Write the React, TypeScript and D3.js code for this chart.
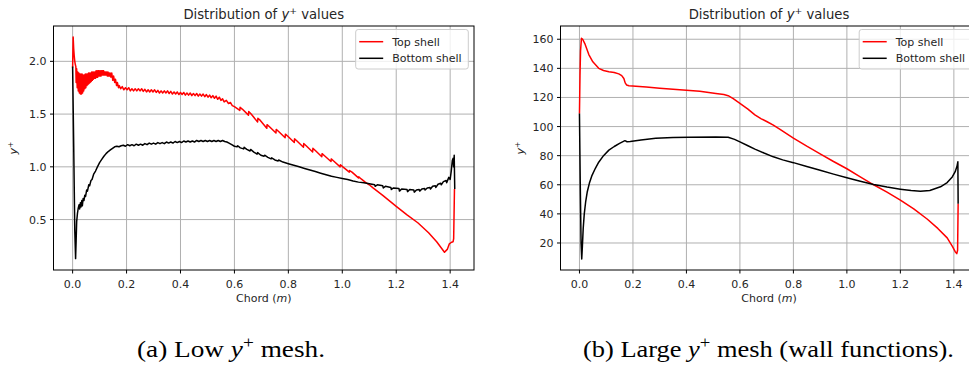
import * as d3 from "d3";

// chord positions (m) vs y+ values
const lowTopShell: [number, number][] = [
  [0.000, 1.94], [0.002, 2.23], [0.004, 2.12], [0.006, 2.05], [0.008, 2.00], [0.010, 1.97], [0.012, 1.95],
  [0.013, 1.80], [0.015, 1.93], [0.017, 1.75], [0.019, 1.90], [0.021, 1.72], [0.023, 1.89], [0.025, 1.70],
  [0.027, 1.88], [0.029, 1.69], [0.031, 1.88], [0.033, 1.69], [0.035, 1.88], [0.037, 1.70], [0.039, 1.87],
  [0.041, 1.72], [0.043, 1.87], [0.045, 1.74], [0.047, 1.88], [0.049, 1.75], [0.051, 1.88], [0.053, 1.77],
  [0.055, 1.88], [0.057, 1.78], [0.059, 1.89], [0.061, 1.79], [0.063, 1.89], [0.065, 1.80], [0.067, 1.89],
  [0.069, 1.81], [0.071, 1.90], [0.073, 1.82], [0.075, 1.90], [0.077, 1.83], [0.079, 1.90], [0.081, 1.84],
  [0.083, 1.90], [0.085, 1.84], [0.087, 1.91], [0.089, 1.85], [0.091, 1.91], [0.093, 1.85], [0.095, 1.91],
  [0.097, 1.86], [0.099, 1.91], [0.101, 1.86], [0.103, 1.91], [0.105, 1.86], [0.107, 1.91], [0.109, 1.87],
  [0.111, 1.91], [0.113, 1.87], [0.115, 1.91], [0.117, 1.87], [0.119, 1.90], [0.121, 1.87], [0.123, 1.90],
  [0.125, 1.87], [0.127, 1.90], [0.129, 1.86], [0.131, 1.90], [0.133, 1.86], [0.135, 1.89], [0.137, 1.86],
  [0.139, 1.89], [0.142, 1.85], [0.145, 1.89], [0.149, 1.82], [0.152, 1.86], [0.156, 1.80], [0.159, 1.83],
  [0.163, 1.77], [0.166, 1.80], [0.170, 1.75], [0.173, 1.77], [0.178, 1.74],
  [0.184, 1.76], [0.190, 1.73], [0.196, 1.75], [0.202, 1.73], [0.208, 1.75], [0.214, 1.72], [0.220, 1.74],
  [0.226, 1.72], [0.232, 1.74], [0.238, 1.72], [0.244, 1.74], [0.250, 1.72], [0.256, 1.74], [0.262, 1.715],
  [0.268, 1.735], [0.274, 1.71], [0.280, 1.73], [0.286, 1.71], [0.292, 1.73], [0.298, 1.71], [0.304, 1.73],
  [0.310, 1.705], [0.316, 1.725], [0.322, 1.70], [0.328, 1.72], [0.334, 1.70], [0.340, 1.72], [0.346, 1.70],
  [0.352, 1.72], [0.358, 1.695], [0.364, 1.715], [0.370, 1.69], [0.376, 1.71], [0.382, 1.69], [0.388, 1.71],
  [0.394, 1.685], [0.400, 1.705], [0.406, 1.685], [0.412, 1.705], [0.418, 1.68], [0.424, 1.70], [0.430, 1.68],
  [0.436, 1.70], [0.442, 1.675], [0.448, 1.695], [0.454, 1.675], [0.460, 1.695], [0.466, 1.67], [0.472, 1.69],
  [0.478, 1.67], [0.484, 1.69], [0.490, 1.665], [0.496, 1.685], [0.502, 1.66], [0.508, 1.68], [0.514, 1.655],
  [0.520, 1.675], [0.526, 1.65], [0.532, 1.67], [0.538, 1.64], [0.544, 1.66], [0.550, 1.63], [0.556, 1.645],
  [0.562, 1.615], [0.570, 1.63], [0.578, 1.60], [0.585, 1.61], [0.592, 1.58],
  [0.600, 1.57], [0.620, 1.535], [0.621, 1.565], [0.630, 1.545],
  [0.652, 1.49], [0.653, 1.525], [0.662, 1.50],
  [0.686, 1.425], [0.687, 1.46], [0.696, 1.44],
  [0.720, 1.365], [0.721, 1.40], [0.730, 1.38],
  [0.754, 1.32], [0.755, 1.355], [0.764, 1.335],
  [0.788, 1.275], [0.789, 1.31], [0.798, 1.29],
  [0.822, 1.23], [0.823, 1.265], [0.832, 1.245],
  [0.856, 1.185], [0.857, 1.22], [0.866, 1.20],
  [0.890, 1.14], [0.891, 1.175], [0.900, 1.155],
  [0.924, 1.095], [0.925, 1.125], [0.934, 1.105],
  [0.958, 1.05], [0.959, 1.075], [0.968, 1.055],
  [0.992, 1.00], [0.993, 1.02], [1.002, 1.00],
  [1.026, 0.95], [1.027, 0.965], [1.036, 0.95],
  [1.060, 0.895], [1.061, 0.905], [1.070, 0.885],
  [1.085, 0.855], [1.100, 0.83], [1.114, 0.80], [1.150, 0.73], [1.200, 0.625], [1.240, 0.545],
  [1.280, 0.47], [1.320, 0.375], [1.350, 0.29], [1.379, 0.19], [1.390, 0.22], [1.397, 0.27],
  [1.405, 0.285], [1.411, 0.29], [1.413, 0.32], [1.416, 0.79],
];

const lowBottomShell: [number, number][] = [
  [0.000, 1.95], [0.004, 1.20], [0.008, 0.40], [0.011, 0.13], [0.013, 0.30], [0.015, 0.48], [0.018, 0.56],
  [0.021, 0.61], [0.024, 0.64], [0.026, 0.60], [0.029, 0.66], [0.031, 0.62], [0.034, 0.68], [0.036, 0.63],
  [0.039, 0.70], [0.042, 0.68], [0.045, 0.73], [0.048, 0.72], [0.052, 0.78], [0.055, 0.77], [0.060, 0.83],
  [0.063, 0.82], [0.068, 0.87], [0.072, 0.88], [0.078, 0.93], [0.085, 0.96], [0.092, 1.00], [0.100, 1.04],
  [0.108, 1.07], [0.116, 1.10], [0.124, 1.125], [0.132, 1.145], [0.140, 1.16], [0.148, 1.175], [0.156, 1.19],
  [0.164, 1.195], [0.172, 1.19], [0.180, 1.20],
  [0.188, 1.205], [0.196, 1.195], [0.204, 1.21], [0.212, 1.20], [0.220, 1.21], [0.228, 1.20], [0.236, 1.215],
  [0.244, 1.205], [0.252, 1.215], [0.260, 1.205], [0.268, 1.22], [0.276, 1.21], [0.284, 1.225], [0.292, 1.215],
  [0.300, 1.225], [0.308, 1.215], [0.316, 1.23], [0.324, 1.22], [0.332, 1.23], [0.340, 1.22], [0.348, 1.235],
  [0.356, 1.225], [0.364, 1.235], [0.372, 1.225], [0.380, 1.24], [0.388, 1.23], [0.396, 1.24], [0.404, 1.23],
  [0.412, 1.245], [0.420, 1.235], [0.428, 1.245], [0.436, 1.235], [0.444, 1.245], [0.452, 1.235], [0.460, 1.25],
  [0.468, 1.24], [0.476, 1.25], [0.484, 1.24], [0.492, 1.25], [0.500, 1.24], [0.508, 1.25], [0.516, 1.24],
  [0.524, 1.25], [0.532, 1.24], [0.540, 1.25], [0.548, 1.24], [0.556, 1.25], [0.564, 1.24], [0.572, 1.235],
  [0.580, 1.225], [0.590, 1.21], [0.600, 1.195],
  [0.610, 1.19], [0.612, 1.20], [0.622, 1.18], [0.634, 1.17], [0.636, 1.185], [0.646, 1.165], [0.658, 1.15],
  [0.660, 1.165], [0.672, 1.14], [0.684, 1.12], [0.686, 1.135], [0.698, 1.11], [0.710, 1.10], [0.712, 1.11],
  [0.724, 1.09], [0.736, 1.075], [0.738, 1.085], [0.750, 1.065], [0.762, 1.055], [0.764, 1.065], [0.780, 1.045],
  [0.800, 1.03], [0.820, 1.015], [0.840, 1.00], [0.860, 0.985], [0.880, 0.97], [0.900, 0.955], [0.920, 0.94],
  [0.940, 0.925], [0.960, 0.91], [0.980, 0.90], [1.000, 0.89], [1.020, 0.88], [1.040, 0.865], [1.060, 0.855],
  [1.080, 0.85], [1.100, 0.84], [1.120, 0.83], [1.122, 0.815], [1.130, 0.83], [1.150, 0.82], [1.152, 0.80],
  [1.160, 0.815], [1.180, 0.805], [1.182, 0.785], [1.190, 0.80], [1.210, 0.795], [1.212, 0.77], [1.220, 0.79],
  [1.240, 0.785], [1.242, 0.765], [1.250, 0.785], [1.265, 0.78], [1.267, 0.76], [1.275, 0.78], [1.285, 0.785],
  [1.287, 0.77], [1.295, 0.79], [1.305, 0.795], [1.307, 0.78], [1.315, 0.80], [1.325, 0.805], [1.327, 0.79],
  [1.335, 0.815], [1.345, 0.82], [1.347, 0.805], [1.355, 0.835], [1.365, 0.845], [1.367, 0.83], [1.375, 0.86],
  [1.385, 0.87], [1.387, 0.85], [1.395, 0.90], [1.400, 0.88], [1.404, 0.96], [1.408, 1.06], [1.411, 1.08],
  [1.413, 1.00], [1.415, 1.11], [1.417, 0.79],
];

const largeTopShell: [number, number][] = [
  [0.000, 109], [0.002, 135], [0.004, 152], [0.0075, 160.7], [0.012, 160], [0.020, 157], [0.035, 149.5],
  [0.050, 144.5], [0.072, 140], [0.090, 138.5], [0.110, 137.7], [0.130, 137.2], [0.147, 136.2], [0.158, 135],
  [0.166, 133], [0.171, 130], [0.176, 128.6], [0.185, 128.1], [0.198, 127.9], [0.250, 127.2], [0.300, 126.4],
  [0.350, 125.7], [0.400, 125], [0.450, 124.2], [0.510, 122.8], [0.540, 122], [0.556, 121.2], [0.575, 119.2],
  [0.600, 116], [0.630, 112], [0.656, 108], [0.680, 105.3], [0.700, 103.5], [0.725, 101], [0.750, 98],
  [0.800, 92], [0.850, 86.5], [0.900, 81.3], [0.950, 76], [1.000, 71], [1.050, 65.5], [1.100, 60],
  [1.150, 55], [1.200, 49.5], [1.250, 43.5], [1.300, 36.5], [1.340, 30], [1.375, 23.5], [1.395, 17.5],
  [1.405, 14], [1.411, 12.7], [1.414, 15], [1.416, 47],
];

const largeBottomShell: [number, number][] = [
  [0.000, 109], [0.003, 60], [0.006, 20], [0.0085, 9], [0.011, 18], [0.014, 30], [0.018, 40], [0.023, 48],
  [0.029, 55], [0.037, 61], [0.047, 66.5], [0.060, 71.5], [0.072, 75.5], [0.090, 80], [0.110, 83.8],
  [0.130, 86.3], [0.150, 88.5], [0.170, 90.3], [0.178, 89.6], [0.190, 89.7], [0.230, 90.8], [0.285, 91.9],
  [0.350, 92.4], [0.410, 92.6], [0.510, 92.8], [0.556, 92.6], [0.580, 91.2], [0.600, 89.5], [0.630, 86.8],
  [0.656, 84.5], [0.690, 81.8], [0.725, 79.2], [0.760, 77.1], [0.800, 75.2], [0.850, 72.5], [0.900, 70],
  [0.950, 67.3], [1.000, 64.8], [1.050, 62.4], [1.100, 60.2], [1.150, 58.4], [1.200, 57], [1.240, 56],
  [1.275, 55.6], [1.310, 56.1], [1.350, 58.6], [1.375, 61.5], [1.394, 65.4], [1.405, 69], [1.412, 73],
  [1.415, 75.8], [1.416, 47],
];

const xTicks = [0, 0.2, 0.4, 0.6, 0.8, 1.0, 1.2, 1.4];
const lowYTicks = [0.5, 1.0, 1.5, 2.0];
const largeYTicks = [20, 40, 60, 80, 100, 120, 140, 160];
const seriesNames = ["Top shell", "Bottom shell"];
const seriesColors = ["#ff0000", "#000000"];

const FONT = "'DejaVu Sans', sans-serif";
const SERIF = "'Liberation Serif', 'DejaVu Serif', serif";

interface PanelProps {
  id: string;
  left: number;
  right: number;
  top: number;
  bottom: number;
  yDomain: [number, number];
  yTicks: number[];
  yFormat: (v: number) => string;
  top_: [number, number][];
  bottom_: [number, number][];
}

function Panel(props: PanelProps) {
  const { id, left, right, top, bottom, yDomain, yTicks, yFormat } = props;
  const x = d3.scaleLinear().domain([-0.0709, 1.4884]).range([left, right]);
  const y = d3.scaleLinear().domain(yDomain).range([bottom, top]);
  const line = d3.line<[number, number]>().x(d => x(d[0])).y(d => y(d[1]));
  const cx = (left + right) / 2;
  const cy = (top + bottom) / 2;
  const xf = d3.format(".1f");
  const legX = right - 118.3;

  return (
    <g style={{ fontFamily: FONT }}>
      <defs>
        <clipPath id={id}>
          <rect x={left} y={top} width={right - left} height={bottom - top} />
        </clipPath>
      </defs>
      {/* grid */}
      {xTicks.map(t => (
        <line key={"gx" + t} x1={x(t)} x2={x(t)} y1={top} y2={bottom} stroke="#b0b0b0" strokeWidth={1} />
      ))}
      {yTicks.map(t => (
        <line key={"gy" + t} x1={left} x2={right} y1={y(t)} y2={y(t)} stroke="#b0b0b0" strokeWidth={1} />
      ))}
      {/* lines */}
      <g clipPath={`url(#${id})`} fill="none" strokeWidth={1.5} strokeLinejoin="round">
        <path d={line(props.top_) || ""} stroke={seriesColors[0]} />
        <path d={line(props.bottom_) || ""} stroke={seriesColors[1]} />
      </g>
      {/* frame */}
      <rect x={left} y={top} width={right - left} height={bottom - top} fill="none" stroke="#000" strokeWidth={1} />
      {/* ticks */}
      {xTicks.map(t => (
        <g key={"tx" + t}>
          <line x1={x(t)} x2={x(t)} y1={bottom} y2={bottom + 3.5} stroke="#000" />
          <text x={x(t)} y={287.5} textAnchor="middle" fontSize={11} fill="#262626">{xf(t)}</text>
        </g>
      ))}
      {yTicks.map(t => (
        <g key={"ty" + t}>
          <line x1={left - 3.5} x2={left} y1={y(t)} y2={y(t)} stroke="#000" />
          <text x={left - 7} y={y(t) + 4} textAnchor="end" fontSize={11} fill="#262626">{yFormat(t)}</text>
        </g>
      ))}
      {/* title */}
      <text x={cx} y={18.5} textAnchor="middle" fontSize={13.2} fill="#262626">
        Distribution of <tspan fontStyle="italic">y</tspan>
        <tspan dy={-5} fontSize={9.3}>+</tspan>
        <tspan dy={5}> values</tspan>
      </text>
      {/* axis labels */}
      <text x={cx} y={301.5} textAnchor="middle" fontSize={11} fill="#262626">
        Chord (<tspan fontStyle="italic">m</tspan>)
      </text>
      <text transform={`translate(${left - 37},${cy}) rotate(-90)`} textAnchor="middle" fontSize={11} fill="#262626">
        <tspan fontStyle="italic">y</tspan>
        <tspan dy={-4} fontSize={7.7}>+</tspan>
      </text>
      {/* legend */}
      <rect x={legX} y={29.5} width={112.6} height={39.5} rx={2.5} fill="#fff" fillOpacity={0.8} stroke="#cccccc" strokeWidth={1} />
      {seriesNames.map((n, i) => (
        <g key={n}>
          <line x1={legX + 3.5} x2={legX + 27.5} y1={41.7 + i * 16.6} y2={41.7 + i * 16.6} stroke={seriesColors[i]} strokeWidth={1.5} />
          <text x={legX + 36.5} y={45.6 + i * 16.6} fontSize={11} fill="#262626">{n}</text>
        </g>
      ))}
    </g>
  );
}

export default function App() {
  return (
    <svg width={969} height={367} style={{ position: "absolute", left: 0, top: 0, background: "#fff" }}>
      <rect width={969} height={367} fill="#fff" />
      <Panel id="clipA" left={53.5} right={474} top={26} bottom={270} yDomain={[0.022, 2.335]}
        yTicks={lowYTicks} yFormat={d3.format(".1f")} top_={lowTopShell} bottom_={lowBottomShell} />
      <Panel id="clipB" left={560.5} right={977.5} top={26} bottom={270} yDomain={[1.44, 169.1]}
        yTicks={largeYTicks} yFormat={d3.format("d")} top_={largeTopShell} bottom_={largeBottomShell} />
      <g style={{ fontFamily: SERIF }} fontSize={24} fill="#000">
        <text x={137} y={357} textLength={188} lengthAdjust="spacingAndGlyphs">
          (a) Low <tspan fontStyle="italic">y</tspan><tspan dy={-9} fontSize={17}>+</tspan><tspan dy={9}> mesh.</tspan>
        </text>
        <text x={583} y={357} textLength={371} lengthAdjust="spacingAndGlyphs">
          (b) Large <tspan fontStyle="italic">y</tspan><tspan dy={-9} fontSize={17}>+</tspan><tspan dy={9}> mesh (wall functions).</tspan>
        </text>
      </g>
    </svg>
  );
}
